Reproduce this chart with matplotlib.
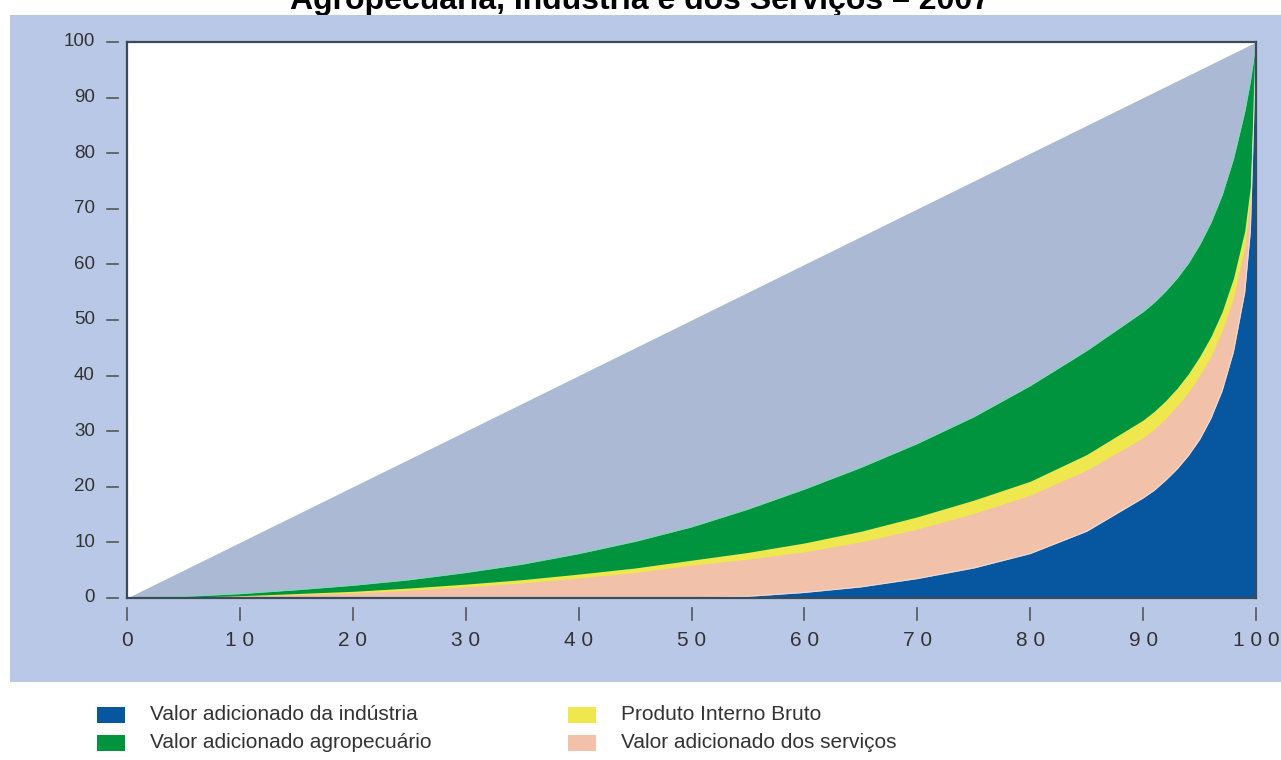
import matplotlib
matplotlib.use("Agg")
import matplotlib.pyplot as plt
import matplotlib.patches as mpatches
import matplotlib.transforms as mtransforms

plt.rcParams['font.family'] = ['Liberation Sans', 'DejaVu Sans']

# populacao acumulada (%)
pop = [0, 5, 10, 15, 20, 25, 30, 35, 40, 45, 50, 55, 60, 65, 70, 75, 80, 85, 90,
       91, 92, 93, 94, 95, 96, 97, 98, 99, 99.5, 100]
# curvas de Lorenz (% acumulado)
agro = [0, 0.3, 0.8, 1.5, 2.3, 3.3, 4.6, 6.1, 8.0, 10.2, 12.8, 16.0, 19.6, 23.5, 27.8,
        32.6, 38.2, 44.5, 51.5, 53.2, 55.2, 57.5, 60.2, 63.5, 67.5, 72.5, 79, 87.5, 93, 100]
pib = [0, 0.15, 0.4, 0.8, 1.2, 1.8, 2.5, 3.3, 4.3, 5.4, 6.8, 8.2, 9.9, 12.0, 14.6,
       17.6, 21.0, 25.8, 32.0, 33.6, 35.5, 37.7, 40.3, 43.4, 47, 51.5, 57.5, 66, 74, 100]
servicos = [0, 0.1, 0.3, 0.6, 0.9, 1.4, 2.0, 2.7, 3.6, 4.6, 5.9, 7.0, 8.3, 10.1, 12.4,
            15.2, 18.5, 23.0, 28.8, 30.4, 32.3, 34.5, 37, 40, 43.5, 48, 54, 63, 72, 100]
industria = [0, 0, 0, 0, 0, 0, 0, 0, 0, 0, 0.05, 0.3, 1.0, 2.0, 3.5,
             5.4, 8.0, 12.0, 18.0, 19.4, 21.2, 23.2, 25.6, 28.5, 32.3, 37.3, 44.3, 55, 66, 100]

y_ticks = [0, 10, 20, 30, 40, 50, 60, 70, 80, 90, 100]
x_ticks = [0, 10, 20, 30, 40, 50, 60, 70, 80, 90, 100]
x_labels = ["0", "1 0", "2 0", "3 0", "4 0", "5 0", "6 0", "7 0", "8 0", "9 0", "1 0 0"]

titulo = "Agropecuária, Indústria e dos Serviços – 2007"
legenda = [("Valor adicionado da indústria", "#0656a0"),
           ("Valor adicionado agropecuário", "#00943e"),
           ("Produto Interno Bruto", "#eee84e"),
           ("Valor adicionado dos serviços", "#f1c1a9")]

c_fundo = "#b9c8e6"
c_cinza = "#abb9d4"
c_texto = "#333333"

fig = plt.figure(figsize=(12.81, 7.6), dpi=100)
W, H = 1281, 760

# faixa azul clara de fundo
fig.patches.append(mpatches.Rectangle((10 / W, 1 - 682 / H), 1 - 10 / W, (682 - 15) / H,
                                      transform=fig.transFigure, facecolor=c_fundo,
                                      edgecolor="none", zorder=-10))

# titulo (cortado no topo)
fig.text(0.5, 1 - 9 / H, titulo, ha="center", va="baseline", fontsize=23,
         fontweight="bold", color="black", zorder=-20)

ax = fig.add_axes([127 / W, 1 - 598 / H, (1256 - 127) / W, (598 - 42) / H])
ax.set_facecolor("white")
ax.set_xlim(0, 100)
ax.set_ylim(0, 100)

ax.fill_between(pop, 0, pop, color=c_cinza, lw=0)
ax.fill_between(pop, 0, agro, color="#00943e", lw=0)
ax.plot(pop, agro, color="#86d4b8", lw=1)
ax.fill_between(pop, 0, pib, color="#eee84e", lw=0)
ax.fill_between(pop, 0, servicos, color="#f1c1a9", lw=0)
ax.fill_between(pop, 0, industria, color="#0656a0", lw=0)
ax.plot(pop, industria, color="#e9dcd8", lw=0.8)

for s in ax.spines.values():
    s.set_color("#3c4a5a")
    s.set_linewidth(1.6)
    s.set_zorder(5)
ax.set_xticks([])
ax.set_yticks([])

# marcas dos eixos afastadas do quadro
ty = mtransforms.blended_transform_factory(ax.transAxes, ax.transData)
tx = mtransforms.blended_transform_factory(ax.transData, ax.transAxes)
dx = 1 / (1256 - 127)
dy = 1 / (598 - 42)
for v in y_ticks:
    ax.plot([-20 * dx, -9 * dx], [v, v], transform=ty, color="#555555", lw=1.2, clip_on=False)
    ax.text(-32 * dx, v, str(v), transform=ty, ha="right", va="center",
            fontsize=13.5, color=c_texto)
for v, lab in zip(x_ticks, x_labels):
    ax.plot([v, v], [-10 * dy, -22 * dy], transform=tx, color="#555555", lw=1.2, clip_on=False)
    ax.text(v, -42 * dy, lab, transform=tx, ha="center", va="center",
            fontsize=15, color=c_texto)

# legenda
pos = [(97, 707), (97, 735), (568, 707), (568, 735)]
for (lab, cor), (px, py) in zip(legenda, pos):
    fig.patches.append(mpatches.Rectangle((px / W, 1 - (py + 16) / H), 28 / W, 16 / H,
                                          transform=fig.transFigure, facecolor=cor,
                                          edgecolor="none"))
    fig.text((px + 53) / W, 1 - (py + 8) / H, lab, ha="left", va="center",
             fontsize=15, color=c_texto)

fig.savefig("out.png", dpi=100)
